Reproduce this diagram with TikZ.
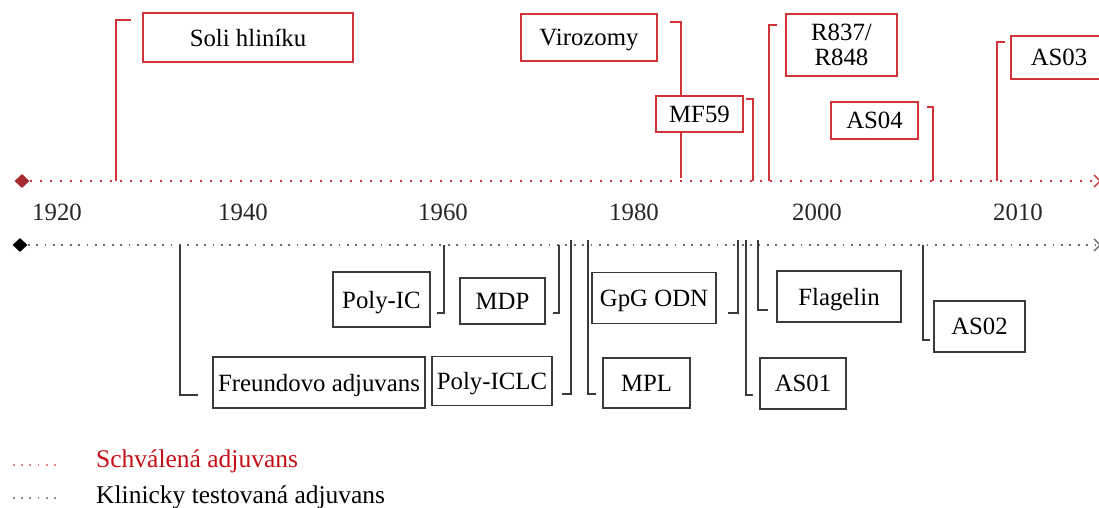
\documentclass[tikz,border=0pt]{standalone}
\usepackage{fontspec}
\setmainfont{Liberation Serif}
\usetikzlibrary{arrows.meta,shapes.geometric}
\definecolor{rline}{RGB}{208,52,56}
\definecolor{rtext}{RGB}{196,16,20}
\definecolor{kline}{RGB}{58,58,58}
\definecolor{kdot}{RGB}{110,110,110}
\tikzset{
  txt/.style={font=\fontsize{24.8}{26}\selectfont, inner sep=0pt, text depth=0pt},
  rbox/.style={txt, draw=rline, line width=1.7pt, fill=white, align=center},
  kbox/.style={txt, draw=kline, line width=1.7pt, fill=white, align=center},
  rcon/.style={draw=rline, line width=1.6pt},
  kcon/.style={draw=kline, line width=1.8pt},
  raxis/.style={draw=rline, line width=1.9pt, dash pattern=on 1.9pt off 8.1pt, -{Straight Barb[length=6pt,width=12pt,line width=1.4pt]}},
  kaxis/.style={draw=kdot, line width=1.9pt, dash pattern=on 1.9pt off 6.5pt, -{Straight Barb[length=6pt,width=12pt,line width=1.4pt]}},
  year/.style={txt, text=black!85},
  diam/.style={diamond, inner sep=0pt, minimum width=15pt, minimum height=14pt},
  leg/.style={txt, font=\fontsize{25.5}{27}\selectfont, anchor=west},
}
\begin{document}
\begin{tikzpicture}[x=1pt,y=-1pt]
\useasboundingbox (0,0) rectangle (1099,508);
% axes
\node[diam, fill=rline!80!black] (rd) at (22,181) {};
\node[diam, fill=black] (kd) at (20,245) {};
\coordinate (re) at (1101,181);
\coordinate (ke) at (1101,245);
\draw[raxis] (rd.east) -- (re);
\draw[kaxis] (kd.east) -- (ke);
% years
\node[year] (y1920) at (57,212) {1920};
\node[year] (y1940) at (243,212) {1940};
\node[year] (y1960) at (443,212) {1960};
\node[year] (y1980) at (634,212) {1980};
\node[year] (y2000) at (817,212) {2000};
\node[year] (y2010) at (1018,212) {2010};
% red connectors
\coordinate (a1) at (116,181); \coordinate (s1) at (131,20);
\coordinate (a2) at (681,178); \coordinate (s2) at (670,22);
\coordinate (a3) at (753,181); \coordinate (s3) at (746,99);
\coordinate (a4) at (769,181); \coordinate (s4) at (777,25);
\coordinate (a5) at (933,181); \coordinate (s5) at (927,107);
\coordinate (a6) at (997,181); \coordinate (s6) at (1005,42);
\draw[rcon] (a1) |- (s1);
\draw[rcon] (a2) |- (s2);
\draw[rcon] (a3) |- (s3);
\draw[rcon] (a4) |- (s4);
\draw[rcon] (a5) |- (s5);
\draw[rcon] (a6) |- (s6);
% red boxes
\node[rbox, minimum width=210pt, minimum height=49pt] (soli) at (248,37.5) {Soli hliníku};
\node[rbox, minimum width=136pt, minimum height=47pt] (viro) at (589,37.5) {Virozomy};
\node[rbox, minimum width=87pt, minimum height=36pt] (mf59) at (699.5,114) {MF59};
\node[rbox, minimum width=111pt, minimum height=62pt] (r837) at (841.5,45) {R837/\\[-1pt]R848};
\node[rbox, minimum width=87pt, minimum height=37pt] (as04) at (874.5,120.5) {AS04};
\node[rbox, minimum width=96pt, minimum height=43pt] (as03) at (1059,57.5) {AS03};
% black connectors
\coordinate (b1) at (180,245); \coordinate (t1) at (198,395);
\coordinate (b2) at (444,245); \coordinate (t2) at (437,313);
\coordinate (b3) at (559,245); \coordinate (t3) at (553,313);
\coordinate (b4) at (571,240); \coordinate (t4) at (562,394);
\coordinate (b5) at (588,240); \coordinate (t5) at (596,394);
\coordinate (b6) at (738,240); \coordinate (t6) at (728,313);
\coordinate (b7) at (746,240); \coordinate (t7) at (753,395);
\coordinate (b8) at (758,240); \coordinate (t8) at (768,310);
\coordinate (b9) at (923,245); \coordinate (t9) at (930,340);
\draw[kcon] (b1) |- (t1);
\draw[kcon] (b2) |- (t2);
\draw[kcon] (b3) |- (t3);
\draw[kcon] (b4) |- (t4);
\draw[kcon] (b5) |- (t5);
\draw[kcon] (b6) |- (t6);
\draw[kcon] (b7) |- (t7);
\draw[kcon] (b8) |- (t8);
\draw[kcon] (b9) |- (t9);
% black boxes
\node[kbox, minimum width=212pt, minimum height=51pt] (freund) at (319,382.5) {Freundovo adjuvans};
\node[kbox, minimum width=97pt, minimum height=55pt] (polyic) at (381.5,299.5) {Poly-IC};
\node[kbox, minimum width=85pt, minimum height=46pt] (mdp) at (502.5,301) {MDP};
\node[kbox, minimum width=120pt, minimum height=49pt] (polyiclc) at (492,381) {Poly-ICLC};
\node[kbox, minimum width=87pt, minimum height=50pt] (mpl) at (646.5,383) {MPL};
\node[kbox, minimum width=124pt, minimum height=51pt] (gpg) at (654,298) {GpG ODN};
\node[kbox, minimum width=86pt, minimum height=51pt] (as01) at (803,383.5) {AS01};
\node[kbox, minimum width=124pt, minimum height=51pt] (flag) at (839,296.5) {Flagelin};
\node[kbox, minimum width=91pt, minimum height=51pt] (as02) at (979.5,326.5) {AS02};
% legend
\coordinate (l1a) at (13,465); \coordinate (l1b) at (57,465);
\coordinate (l2a) at (13,498); \coordinate (l2b) at (57,498);
\draw[draw=rline!60, line width=1.8pt, dash pattern=on 1.8pt off 6.4pt] (l1a) -- (l1b);
\draw[draw=kdot!80, line width=1.8pt, dash pattern=on 1.8pt off 6.4pt] (l2a) -- (l2b);
\node[leg, text=rtext] (leg1) at (96,458.5) {Schválená adjuvans};
\node[leg, text=black] (leg2) at (96,494.5) {Klinicky testovaná adjuvans};
\end{tikzpicture}
\end{document}
